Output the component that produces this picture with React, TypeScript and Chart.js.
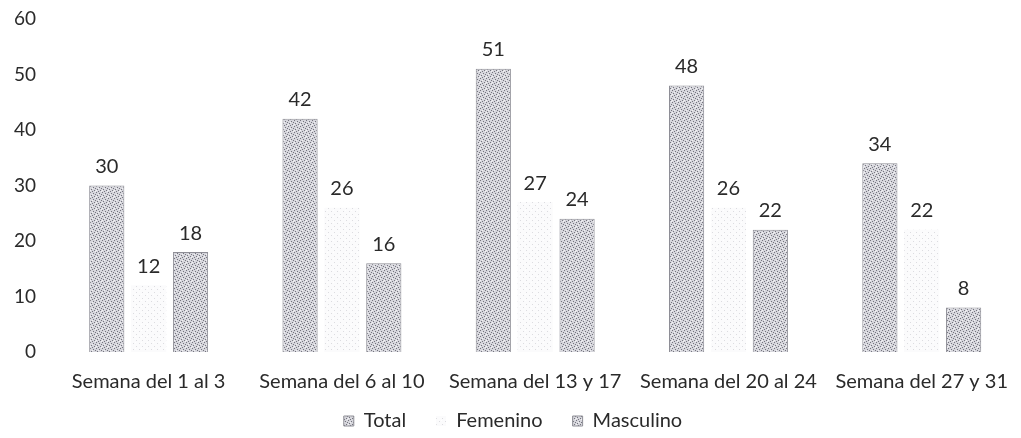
import React, { useEffect, useRef } from "react";
import { Chart, registerables } from "chart.js";

Chart.register(...registerables);

const categories = [
  "Semana del 1 al 3",
  "Semana del 6 al 10",
  "Semana del 13 y 17",
  "Semana del 20 al 24",
  "Semana del 27 y 31",
];
const totalValues = [30, 42, 51, 48, 34];
const femeninoValues = [12, 26, 27, 26, 22];
const masculinoValues = [18, 16, 24, 22, 8];
const yTicks = [0, 10, 20, 30, 40, 50, 60];

const FONT = "Lato, 'Open Sans', sans-serif";

function makePattern(base: string, dot: string, light: string, dense: boolean): CanvasPattern | string {
  const c = document.createElement("canvas");
  c.width = 6;
  c.height = 6;
  const g = c.getContext("2d");
  if (!g) return base;
  g.fillStyle = base;
  g.fillRect(0, 0, 6, 6);
  g.fillStyle = dot;
  const pts = dense
    ? [[0, 0], [3, 1], [1, 3], [4, 4], [2, 5], [5, 2]]
    : [[1, 1], [4, 4]];
  pts.forEach(([x, y]) => g.fillRect(x, y, 1, 1));
  g.fillStyle = light;
  const lp = dense ? [[2, 2], [5, 5], [0, 4]] : [[3, 0]];
  lp.forEach(([x, y]) => g.fillRect(x, y, 1, 1));
  const p = g.createPattern(c, "repeat");
  return p || base;
}

const valueLabels = {
  id: "valueLabels",
  afterDatasetsDraw(chart: any) {
    const ctx = chart.ctx;
    ctx.save();
    ctx.font = `20px ${FONT}`;
    ctx.fillStyle = "#2a2a2a";
    ctx.textAlign = "center";
    ctx.textBaseline = "bottom";
    chart.data.datasets.forEach((ds: any, i: number) => {
      const meta = chart.getDatasetMeta(i);
      meta.data.forEach((bar: any, j: number) => {
        ctx.fillText(String(ds.data[j]), bar.x, bar.y - 9);
      });
    });
    ctx.restore();
  },
};

// Legend keeps wide horizontal gaps but less vertical room
const LEGEND_SHRINK = 34;
const LEGEND_DRAW_SHIFT = 31;
const legendTighten = {
  id: "legendTighten",
  afterInit(chart: any) {
    const lg = chart.legend;
    if (!lg || lg._tight) return;
    lg._tight = true;
    const fit = lg.fit.bind(lg);
    lg.fit = function () {
      fit();
      this.height -= LEGEND_SHRINK;
    };
    const draw = lg.draw.bind(lg);
    lg.draw = function () {
      const t = this.top;
      this.top = t - LEGEND_DRAW_SHIFT;
      draw();
      this.top = t;
    };
  },
};

export default function App() {
  const ref = useRef<HTMLCanvasElement | null>(null);
  useEffect(() => {
    if (!ref.current) return;
    const dark = makePattern("#d6d6dc", "#74747e", "#f2f2f4", true);
    const lightP = makePattern("#fbfbfc", "#dcdce0", "#ffffff", false);
    const chart = new Chart(ref.current, {
      type: "bar",
      data: {
        labels: categories,
        datasets: [
          {
            label: "Total",
            data: totalValues,
            backgroundColor: dark as any,
            borderColor: "#8e8e96",
            borderWidth: 1,
          },
          {
            label: "Femenino",
            data: femeninoValues,
            backgroundColor: lightP as any,
            borderColor: "#f2f2f4",
            borderWidth: 0,
          },
          {
            label: "Masculino",
            data: masculinoValues,
            backgroundColor: dark as any,
            borderColor: "#8e8e96",
            borderWidth: 1,
          },
        ],
      },
      options: {
        animation: false,
        responsive: false,
        categoryPercentage: 0.65,
        barPercentage: 0.84,
        layout: { padding: { top: 8, right: 0, left: 0, bottom: 0 } },
        plugins: {
          tooltip: { enabled: false },
          legend: {
            position: "bottom",
            labels: {
              font: { family: FONT, size: 20 },
              color: "#2a2a2a",
              boxWidth: 10,
              boxHeight: 10,
              padding: 30,
            },
          },
        },
        scales: {
          x: {
            grid: { display: false, drawTicks: false },
            border: { display: false },
            ticks: {
              font: { family: FONT, size: 20 },
              color: "#2a2a2a",
              padding: 18,
              maxRotation: 0,
              autoSkip: false,
            },
          },
          y: {
            min: 0,
            max: 60,
            afterBuildTicks: (scale: any) => {
              scale.ticks = yTicks.map((v) => ({ value: v }));
            },
            afterFit: (scale: any) => {
              scale.width = 52;
            },
            grid: { display: false, drawTicks: false },
            border: { display: false },
            ticks: {
              font: { family: FONT, size: 19, lineHeight: 0.3 },
              color: "#2a2a2a",
              padding: 16,
            },
          },
        },
      },
      plugins: [valueLabels, legendTighten],
    });
    return () => chart.destroy();
  }, []);
  return (
    <div
      style={{
        position: "fixed",
        left: 0,
        top: 0,
        width: 1021,
        height: 438,
        overflow: "hidden",
        background: "#fff",
      }}
    >
      <canvas ref={ref} width={1026} height={438} style={{ display: "block" }} />
    </div>
  );
}
